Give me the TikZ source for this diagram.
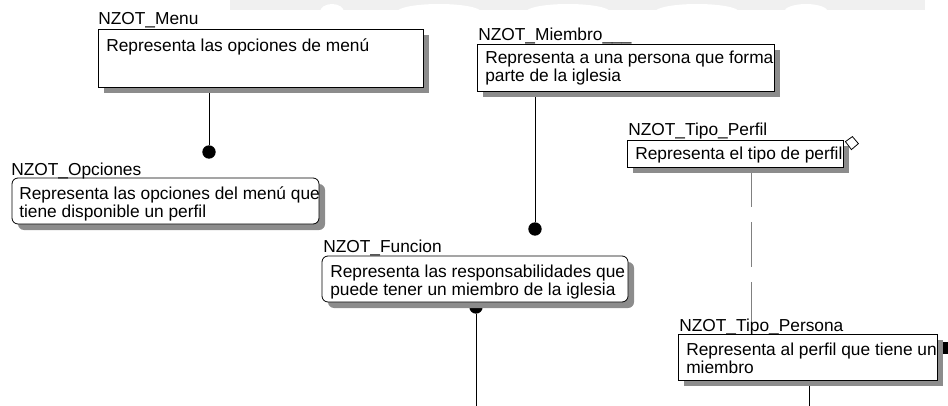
\documentclass[tikz,border=0pt]{standalone}
\usepackage{fontspec}
\setmainfont{Liberation Sans}
\usetikzlibrary{fit}
\pgfdeclarelayer{fondo}
\pgfsetlayers{fondo,main}

\begin{document}
\begin{tikzpicture}[
    x=0.75pt, y=-0.75pt,
    every node/.style={font=\fontsize{13pt}{13.5pt}\selectfont, inner sep=0pt},
    caja/.style={draw, fill=white, line width=0.6pt,
      preaction={fill=black!45, draw=none, transform canvas={shift={(4.5pt,-4.5pt)}}}},
    cajar/.style={caja, rounded corners=4.5pt},
    nombre/.style={anchor=base west},
    texto/.style={anchor=base west, align=left},
    punto/.style={circle, fill=black, minimum size=10pt},
    enlace/.style={line width=0.6pt},
    herencia/.style={line width=0.6pt, black!50,
      dash pattern=on 33.75pt off 11.25pt, dash phase=3.75pt},
  ]
    \useasboundingbox (0,0) rectangle (948,406);

    % marca de agua
    \fill[black!6] (230,0) rectangle (925,10);
    \foreach \cx/\rx in {332/12, 439/42, 568/42, 697/42, 806/22}
      \fill[white] (\cx,12) ellipse ({\rx} and 8);

    % entidades (texto de dos lineas: base en la ultima linea)
    \node[caja, fit={(98,29) (423,87)}] (menu) {};
    \node[nombre] (menu-n) at (98,25) {NZOT\_Menu};
    \node[texto] (menu-t) at (106,52) {Representa las opciones de menú};

    \node[caja, fit={(477,44) (774,91)}] (miembro) {};
    \node[nombre] (miembro-n) at (478,41) {NZOT\_Miembro\_\_\_};
    \node[texto] (miembro-t) at (485,82) {Representa a una persona que forma\\parte de la iglesia};

    \node[cajar, fit={(12,178) (319,224)}] (opc) {};
    \node[nombre] (opc-n) at (11,175) {NZOT\_Opciones};
    \node[texto] (opc-t) at (19,217) {Representa las opciones del menú que\\tiene disponible un perfil};

    % punto bajo la funcion (queda detras de la caja)
    \node[punto] (fun-pie) at (476,307) {};

    \node[cajar, fit={(322,256) (628,302)}] (fun) {};
    \node[nombre] (fun-n) at (323,252) {NZOT\_Funcion};
    \node[texto] (fun-t) at (330,295) {Representa las responsabilidades que\\puede tener un miembro de la iglesia};

    \node[caja, fit={(627,140) (843,167)}] (perfil) {};
    \node[nombre] (perfil-n) at (628,136) {NZOT\_Tipo\_Perfil};
    \node[texto] (perfil-t) at (635,160) {Representa el tipo de perfil};

    \node[caja, fit={(678,334) (937,380)}] (persona) {};
    \node[nombre] (persona-n) at (679,331) {NZOT\_Tipo\_Persona};
    \node[texto] (persona-t) at (686,373) {Representa al perfil que tiene un\\miembro};

    % puntos y extremos
    \node[punto] (opc-punto) at (209,152) {};
    \node[punto] (fun-punto) at (535,229) {};
    \coordinate (fun-fin) at (476,406);
    \coordinate (persona-fin) at (809,406);
    \coordinate (perfil-x) at (751,0);

    % relaciones
    \begin{pgfonlayer}{fondo}
      \draw[enlace] (menu.south -| opc-punto) -- (opc-punto);
      \draw[enlace] (miembro.south -| fun-punto) -- (fun-punto);
      \draw[enlace] (fun-pie) -- (fun-fin);
      \draw[enlace] (persona.south -| persona-fin) -- (persona-fin);
      \draw[herencia] (perfil.south -| perfil-x) -- (persona.north -| perfil-x);
    \end{pgfonlayer}

    % rombo y marca
    \draw[line width=0.6pt, fill=white] (perfil.north east) ++(2,2) -- ++(7,-5) -- ++(6,7) -- ++(-7,6) -- cycle;
    \fill (persona.north east) ++(6,8) rectangle ++(6,12);
\end{tikzpicture}
\end{document}
